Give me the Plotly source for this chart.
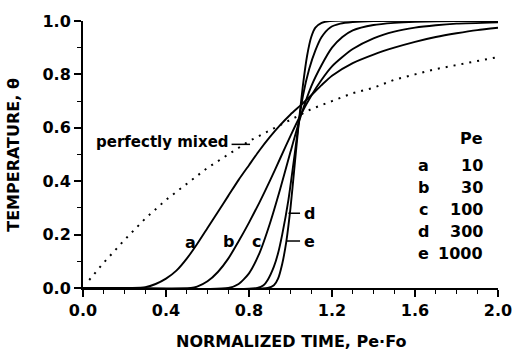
import plotly.graph_objects as go

# ---- data ----
t_mix = [0.03, 0.10, 0.20, 0.30, 0.40, 0.50, 0.60, 0.70, 0.80, 0.90, 1.00, 1.10, 1.20, 1.30, 1.40, 1.50, 1.60, 1.70, 1.80, 1.90, 2.00]
mix = [0.03, 0.095, 0.18, 0.26, 0.33, 0.39, 0.45, 0.50, 0.55, 0.59, 0.63, 0.67, 0.70, 0.73, 0.75, 0.78, 0.80, 0.82, 0.835, 0.85, 0.865]

t_a = [0.0, 0.30, 0.35, 0.40, 0.45, 0.50, 0.55, 0.60, 0.65, 0.70, 0.75, 0.80, 0.85, 0.90, 0.95, 1.00, 1.05, 1.10, 1.15, 1.20, 1.30, 1.40, 1.50, 1.60, 1.70, 1.80, 1.90, 2.00]
a = [0, 0.003, 0.015, 0.035, 0.065, 0.11, 0.165, 0.225, 0.285, 0.345, 0.405, 0.46, 0.515, 0.565, 0.61, 0.65, 0.685, 0.722, 0.76, 0.795, 0.842, 0.874, 0.9, 0.922, 0.94, 0.954, 0.966, 0.975]

t_b = [0.0, 0.52, 0.55, 0.60, 0.65, 0.70, 0.75, 0.80, 0.85, 0.90, 0.95, 1.00, 1.05, 1.10, 1.15, 1.20, 1.25, 1.30, 1.40, 1.50, 1.60, 1.70, 1.80, 2.00]
b = [0, 0, 0.005, 0.025, 0.06, 0.11, 0.175, 0.245, 0.32, 0.40, 0.485, 0.57, 0.65, 0.72, 0.78, 0.83, 0.865, 0.895, 0.935, 0.96, 0.975, 0.984, 0.99, 0.995]

t_c = [0.0, 0.70, 0.75, 0.80, 0.85, 0.90, 0.95, 1.00, 1.05, 1.10, 1.15, 1.20, 1.25, 1.30, 1.40, 1.50, 1.60, 1.80, 2.00]
c = [0, 0, 0.015, 0.055, 0.13, 0.24, 0.37, 0.51, 0.645, 0.755, 0.835, 0.90, 0.94, 0.965, 0.985, 0.993, 0.997, 1.0, 1.0]

t_d = [0.0, 0.84, 0.87, 0.89, 0.92, 0.94, 0.96, 0.99, 1.02, 1.04, 1.06, 1.09, 1.12, 1.15, 1.19, 1.24, 1.30, 1.40, 2.00]
d = [0, 0, 0.01, 0.03, 0.08, 0.13, 0.20, 0.33, 0.50, 0.62, 0.72, 0.82, 0.89, 0.94, 0.975, 0.99, 0.996, 1.0, 1.0]

t_e = [0.0, 0.89, 0.92, 0.94, 0.96, 0.98, 1.00, 1.02, 1.04, 1.06, 1.08, 1.10, 1.12, 1.15, 1.19, 2.00]
e = [0, 0, 0.01, 0.035, 0.09, 0.175, 0.30, 0.46, 0.62, 0.76, 0.87, 0.94, 0.975, 0.993, 1.0, 1.0]

curve_letters = ["a", "b", "c", "d", "e"]
pe_values = ["10", "30", "100", "300", "1000"]

x_ticks = [0.0, 0.4, 0.8, 1.2, 1.6, 2.0]
y_ticks = [0.0, 0.2, 0.4, 0.6, 0.8, 1.0]

FONT = "DejaVu Sans, Arial, sans-serif"

fig = go.Figure()
fig.add_trace(go.Scatter(x=t_mix, y=mix, mode="lines",
                         line=dict(color="black", width=2, dash="2px,6px"),
                         cliponaxis=False, showlegend=False))
for tx, ty in [(t_a, a), (t_b, b), (t_c, c), (t_d, d), (t_e, e)]:
    fig.add_trace(go.Scatter(x=tx, y=ty, mode="lines",
                             line=dict(color="black", width=1.9, shape="spline", smoothing=0.6),
                             cliponaxis=False, showlegend=False))

ann = []
tf = dict(family=FONT, size=16, color="black", weight="bold")
# curve labels
for lbl, (xx, yy) in zip(["a", "b", "c"], [(0.516, 0.17), (0.70, 0.176), (0.834, 0.176)]):
    ann.append(dict(x=xx, y=yy, text=lbl, showarrow=False, font=tf, xanchor="center", yanchor="middle"))
ann.append(dict(x=1.055, y=0.28, text="d", showarrow=False, font=tf, xanchor="left", yanchor="middle"))
ann.append(dict(x=1.055, y=0.176, text="e", showarrow=False, font=tf, xanchor="left", yanchor="middle"))
ann.append(dict(x=0.712, y=0.545, text="perfectly mixed", showarrow=False,
                font=dict(family=FONT, size=15, color="black", weight="bold"), xanchor="right", yanchor="middle"))

# legend table
ann.append(dict(x=1.937, y=0.56, text="Pe", showarrow=False, font=tf, xanchor="right", yanchor="middle"))
rows_y = [0.458, 0.377, 0.293, 0.212, 0.128]
for lbl, pe, yy in zip(curve_letters, pe_values, rows_y):
    ann.append(dict(x=1.643, y=yy, text=lbl, showarrow=False, font=tf, xanchor="center", yanchor="middle"))
    ann.append(dict(x=1.937, y=yy, text=pe, showarrow=False, font=tf, xanchor="right", yanchor="middle"))

# axis titles
ann.append(dict(x=0.5, xref="paper", y=-0.2, yref="paper", yanchor="middle",
                text="NORMALIZED TIME, Pe·Fo", showarrow=False, font=tf))
ann.append(dict(x=-0.168, xref="paper", y=0.5, yref="paper", xanchor="center",
                text="TEMPERATURE, θ", textangle=-90, showarrow=False, font=tf))

shapes = [
    dict(type="line", x0=0.99, x1=1.046, y0=0.28, y1=0.28, line=dict(color="black", width=1.5)),
    dict(type="line", x0=0.981, x1=1.046, y0=0.176, y1=0.176, line=dict(color="black", width=1.5)),
    dict(type="line", x0=0.716, x1=0.805, y0=0.538, y1=0.538, line=dict(color="black", width=1.5)),
]

fig.update_layout(
    width=524, height=355,
    margin=dict(l=83, r=26, t=15, b=67),
    plot_bgcolor="white", paper_bgcolor="white",
    annotations=ann, shapes=shapes,
    font=dict(family=FONT, size=16, color="black"),
    xaxis=dict(range=[0, 2.0], tickvals=x_ticks, ticktext=[f"{v:.1f}" for v in x_ticks],
               ticks="outside", ticklen=7, tickwidth=1.5, tickcolor="black",
               minor=dict(dtick=0.1, ticks="outside", ticklen=4, tickwidth=1.2, tickcolor="black"),
               showline=True, linecolor="black", linewidth=2, showgrid=False, zeroline=False,
               tickfont=dict(family=FONT, size=16, color="black", weight="bold")),
    yaxis=dict(range=[0, 1.0], tickvals=y_ticks, ticktext=[f"{v:.1f}" for v in y_ticks],
               ticks="outside", ticklen=7, tickwidth=1.5, tickcolor="black",
               minor=dict(dtick=0.1, ticks="outside", ticklen=4, tickwidth=1.2, tickcolor="black"),
               showline=True, linecolor="black", linewidth=2, showgrid=False, zeroline=False,
               tickfont=dict(family=FONT, size=16, color="black", weight="bold")),
)

fig.write_html("out.html")
